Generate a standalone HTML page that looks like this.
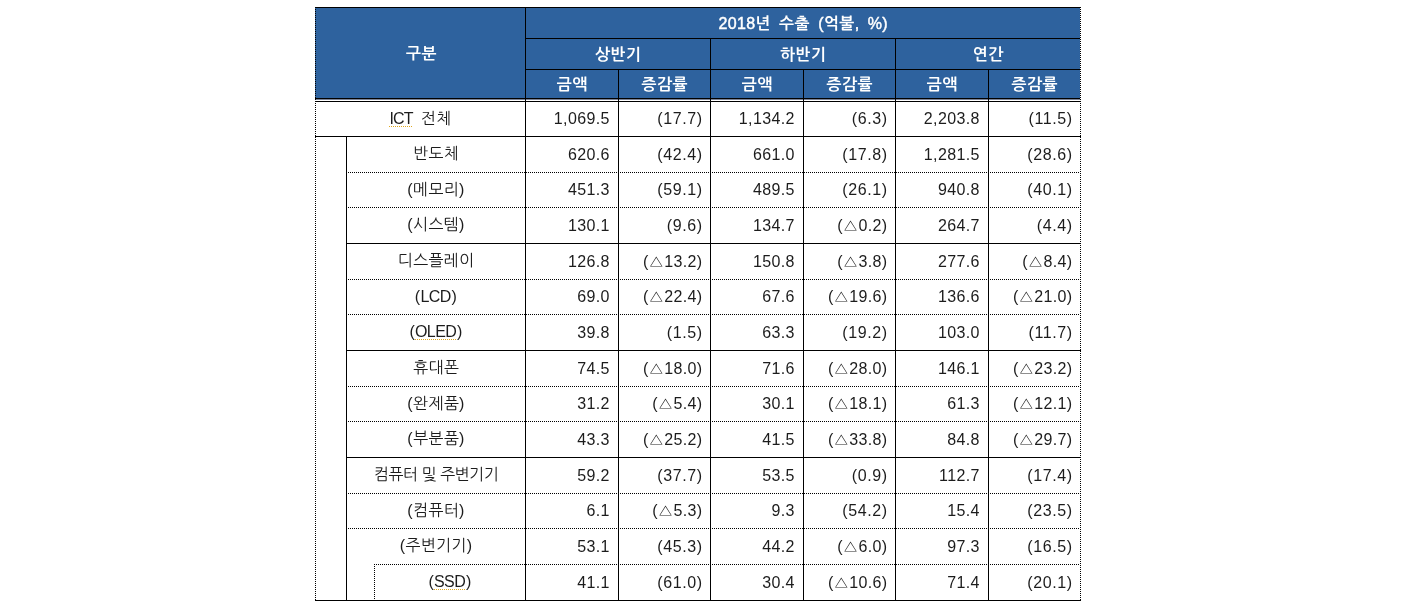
<!DOCTYPE html>
<html lang="ko"><head><meta charset="utf-8"><title>2018년 수출</title>
<style>
html,body{margin:0;padding:0;background:#fff;}
body{width:1402px;height:607px;position:relative;overflow:hidden;font-family:"Liberation Sans","NanumGothic","Noto Sans CJK KR",sans-serif;font-size:16px;color:#1c1c1c;}
.a{position:absolute;}
.hl{position:absolute;height:1px;background:#000;}
.vl{position:absolute;width:1px;background:#000;}
.hd{position:absolute;height:1px;background:repeating-linear-gradient(90deg,#000 0 1px,transparent 1px 2px);}
.vd{position:absolute;width:1px;background:repeating-linear-gradient(180deg,#000 0 1px,transparent 1px 2px);}
.blue{position:absolute;left:315px;top:7px;width:765px;height:92px;background:#2e629e;}
.h{position:absolute;color:#fff;font-weight:bold;text-align:center;white-space:nowrap;font-size:16px;line-height:20px;letter-spacing:0.5px;padding-left:0.5px;box-sizing:border-box;}
.t{position:absolute;text-align:center;white-space:nowrap;line-height:20px;letter-spacing:0.3px;}
.n{position:absolute;text-align:right;white-space:nowrap;line-height:20px;letter-spacing:0.35px;}
.lt{font-weight:normal;-webkit-text-stroke:0.45px #fff;letter-spacing:0.3px;}
.sp{text-decoration:underline dotted #e0a820;text-decoration-thickness:1px;text-underline-offset:1.5px;}
</style></head><body>
<div class="blue"></div>

<div class="hl" style="left:315px;top:7px;width:766px"></div>
<div class="hl" style="left:525px;top:38px;width:555px"></div>
<div class="hl" style="left:525px;top:69px;width:555px"></div>
<div class="hl" style="left:315px;top:98px;width:765px"></div>
<div class="hl" style="left:315px;top:99px;width:765px;background:#7a8296"></div>
<div class="hl" style="left:315px;top:101px;width:766px"></div>
<div class="vl" style="left:525px;top:7px;height:594px"></div>
<div class="vl" style="left:618px;top:69px;height:532px"></div>
<div class="vl" style="left:710px;top:38px;height:563px"></div>
<div class="vl" style="left:803px;top:69px;height:532px"></div>
<div class="vl" style="left:895px;top:38px;height:563px"></div>
<div class="vl" style="left:988px;top:69px;height:532px"></div>
<div class="vl" style="left:346px;top:136px;height:465px"></div>
<div class="vd" style="left:315px;top:9px;height:591px"></div>
<div class="vd" style="left:1080px;top:9px;height:591px"></div>
<div class="vd" style="left:374px;top:564px;height:36px"></div>
<div class="hl" style="left:315px;top:136px;width:766px"></div>
<div class="hd" style="left:348px;top:172px;width:732px"></div>
<div class="hd" style="left:348px;top:207px;width:732px"></div>
<div class="hl" style="left:346px;top:243px;width:735px"></div>
<div class="hd" style="left:348px;top:279px;width:732px"></div>
<div class="hd" style="left:348px;top:314px;width:732px"></div>
<div class="hl" style="left:346px;top:350px;width:735px"></div>
<div class="hd" style="left:348px;top:386px;width:732px"></div>
<div class="hd" style="left:348px;top:421px;width:732px"></div>
<div class="hl" style="left:346px;top:457px;width:735px"></div>
<div class="hd" style="left:348px;top:493px;width:732px"></div>
<div class="hd" style="left:348px;top:528px;width:732px"></div>
<div class="hd" style="left:374px;top:564px;width:706px"></div>
<div class="hl" style="left:315px;top:600px;width:766px"></div>
<div class="h" style="left:316px;top:44.4px;width:210.4px">구분</div>
<div class="h" style="left:526px;top:13.6px;width:554px;word-spacing:3.6px;letter-spacing:0.35px"><span class="lt">2018</span>년 수출 <span class="lt">(</span>억불<span class="lt">, %)</span></div>
<div class="h" style="left:526px;top:44.8px;width:184px">상반기</div>
<div class="h" style="left:711px;top:44.8px;width:184px">하반기</div>
<div class="h" style="left:896px;top:44.8px;width:184px">연간</div>
<div class="h" style="left:526px;top:75.3px;width:92px">금액</div>
<div class="h" style="left:619px;top:75.3px;width:91px">증감률</div>
<div class="h" style="left:711px;top:75.3px;width:92px">금액</div>
<div class="h" style="left:804px;top:75.3px;width:91px">증감률</div>
<div class="h" style="left:896px;top:75.3px;width:92px">금액</div>
<div class="h" style="left:989px;top:75.3px;width:91px">증감률</div>
<div class="t" style="left:316px;top:108.5px;width:209px"><span class="sp" style="letter-spacing:-0.9px">ICT</span><span style="margin-left:3.6px"> 전체</span></div>
<div class="n" style="left:526px;top:109.0px;width:83.7px;letter-spacing:0.35px">1,069.5</div>
<div class="n" style="left:619px;top:109.0px;width:83.7px;letter-spacing:0.6px">(17.7)</div>
<div class="n" style="left:711px;top:109.0px;width:83.7px;letter-spacing:0.35px">1,134.2</div>
<div class="n" style="left:804px;top:109.0px;width:83.7px;letter-spacing:0.6px">(6.3)</div>
<div class="n" style="left:896px;top:109.0px;width:83.7px;letter-spacing:0.35px">2,203.8</div>
<div class="n" style="left:989px;top:109.0px;width:83.7px;letter-spacing:0.6px">(11.5)</div>
<div class="t" style="left:347px;top:144.0px;width:178px">반도체</div>
<div class="n" style="left:526px;top:144.5px;width:83.7px;letter-spacing:0.35px">620.6</div>
<div class="n" style="left:619px;top:144.5px;width:83.7px;letter-spacing:0.6px">(42.4)</div>
<div class="n" style="left:711px;top:144.5px;width:83.7px;letter-spacing:0.35px">661.0</div>
<div class="n" style="left:804px;top:144.5px;width:83.7px;letter-spacing:0.6px">(17.8)</div>
<div class="n" style="left:896px;top:144.5px;width:83.7px;letter-spacing:0.35px">1,281.5</div>
<div class="n" style="left:989px;top:144.5px;width:83.7px;letter-spacing:0.6px">(28.6)</div>
<div class="t" style="left:347px;top:179.5px;width:178px">(메모리)</div>
<div class="n" style="left:526px;top:180.0px;width:83.7px;letter-spacing:0.35px">451.3</div>
<div class="n" style="left:619px;top:180.0px;width:83.7px;letter-spacing:0.6px">(59.1)</div>
<div class="n" style="left:711px;top:180.0px;width:83.7px;letter-spacing:0.35px">489.5</div>
<div class="n" style="left:804px;top:180.0px;width:83.7px;letter-spacing:0.6px">(26.1)</div>
<div class="n" style="left:896px;top:180.0px;width:83.7px;letter-spacing:0.35px">940.8</div>
<div class="n" style="left:989px;top:180.0px;width:83.7px;letter-spacing:0.6px">(40.1)</div>
<div class="t" style="left:347px;top:215.0px;width:178px">(시스템)</div>
<div class="n" style="left:526px;top:215.5px;width:83.7px;letter-spacing:0.35px">130.1</div>
<div class="n" style="left:619px;top:215.5px;width:83.7px;letter-spacing:0.6px">(9.6)</div>
<div class="n" style="left:711px;top:215.5px;width:83.7px;letter-spacing:0.35px">134.7</div>
<div class="n" style="left:804px;top:215.5px;width:83.4px;letter-spacing:0.35px">(△0.2)</div>
<div class="n" style="left:896px;top:215.5px;width:83.7px;letter-spacing:0.35px">264.7</div>
<div class="n" style="left:989px;top:215.5px;width:83.7px;letter-spacing:0.6px">(4.4)</div>
<div class="t" style="left:347px;top:251.0px;width:178px">디스플레이</div>
<div class="n" style="left:526px;top:251.5px;width:83.7px;letter-spacing:0.35px">126.8</div>
<div class="n" style="left:619px;top:251.5px;width:83.4px;letter-spacing:0.35px">(△13.2)</div>
<div class="n" style="left:711px;top:251.5px;width:83.7px;letter-spacing:0.35px">150.8</div>
<div class="n" style="left:804px;top:251.5px;width:83.4px;letter-spacing:0.35px">(△3.8)</div>
<div class="n" style="left:896px;top:251.5px;width:83.7px;letter-spacing:0.35px">277.6</div>
<div class="n" style="left:989px;top:251.5px;width:83.4px;letter-spacing:0.35px">(△8.4)</div>
<div class="t" style="left:347px;top:286.5px;width:178px">(<span style="letter-spacing:-0.6px">LCD</span><span style="margin-left:0.8px">)</span></div>
<div class="n" style="left:526px;top:287.0px;width:83.7px;letter-spacing:0.35px">69.0</div>
<div class="n" style="left:619px;top:287.0px;width:83.4px;letter-spacing:0.35px">(△22.4)</div>
<div class="n" style="left:711px;top:287.0px;width:83.7px;letter-spacing:0.35px">67.6</div>
<div class="n" style="left:804px;top:287.0px;width:83.4px;letter-spacing:0.35px">(△19.6)</div>
<div class="n" style="left:896px;top:287.0px;width:83.7px;letter-spacing:0.35px">136.6</div>
<div class="n" style="left:989px;top:287.0px;width:83.4px;letter-spacing:0.35px">(△21.0)</div>
<div class="t" style="left:347px;top:322.0px;width:178px">(<span class="sp" style="letter-spacing:-0.6px">OLED</span><span style="margin-left:0.8px">)</span></div>
<div class="n" style="left:526px;top:322.5px;width:83.7px;letter-spacing:0.35px">39.8</div>
<div class="n" style="left:619px;top:322.5px;width:83.7px;letter-spacing:0.6px">(1.5)</div>
<div class="n" style="left:711px;top:322.5px;width:83.7px;letter-spacing:0.35px">63.3</div>
<div class="n" style="left:804px;top:322.5px;width:83.7px;letter-spacing:0.6px">(19.2)</div>
<div class="n" style="left:896px;top:322.5px;width:83.7px;letter-spacing:0.35px">103.0</div>
<div class="n" style="left:989px;top:322.5px;width:83.7px;letter-spacing:0.6px">(11.7)</div>
<div class="t" style="left:347px;top:358.0px;width:178px">휴대폰</div>
<div class="n" style="left:526px;top:358.5px;width:83.7px;letter-spacing:0.35px">74.5</div>
<div class="n" style="left:619px;top:358.5px;width:83.4px;letter-spacing:0.35px">(△18.0)</div>
<div class="n" style="left:711px;top:358.5px;width:83.7px;letter-spacing:0.35px">71.6</div>
<div class="n" style="left:804px;top:358.5px;width:83.4px;letter-spacing:0.35px">(△28.0)</div>
<div class="n" style="left:896px;top:358.5px;width:83.7px;letter-spacing:0.35px">146.1</div>
<div class="n" style="left:989px;top:358.5px;width:83.4px;letter-spacing:0.35px">(△23.2)</div>
<div class="t" style="left:347px;top:393.5px;width:178px">(완제품)</div>
<div class="n" style="left:526px;top:394.0px;width:83.7px;letter-spacing:0.35px">31.2</div>
<div class="n" style="left:619px;top:394.0px;width:83.4px;letter-spacing:0.35px">(△5.4)</div>
<div class="n" style="left:711px;top:394.0px;width:83.7px;letter-spacing:0.35px">30.1</div>
<div class="n" style="left:804px;top:394.0px;width:83.4px;letter-spacing:0.35px">(△18.1)</div>
<div class="n" style="left:896px;top:394.0px;width:83.7px;letter-spacing:0.35px">61.3</div>
<div class="n" style="left:989px;top:394.0px;width:83.4px;letter-spacing:0.35px">(△12.1)</div>
<div class="t" style="left:347px;top:429.0px;width:178px">(부분품)</div>
<div class="n" style="left:526px;top:429.5px;width:83.7px;letter-spacing:0.35px">43.3</div>
<div class="n" style="left:619px;top:429.5px;width:83.4px;letter-spacing:0.35px">(△25.2)</div>
<div class="n" style="left:711px;top:429.5px;width:83.7px;letter-spacing:0.35px">41.5</div>
<div class="n" style="left:804px;top:429.5px;width:83.4px;letter-spacing:0.35px">(△33.8)</div>
<div class="n" style="left:896px;top:429.5px;width:83.7px;letter-spacing:0.35px">84.8</div>
<div class="n" style="left:989px;top:429.5px;width:83.4px;letter-spacing:0.35px">(△29.7)</div>
<div class="t" style="left:347px;top:465.0px;width:178px"><span style="letter-spacing:-0.47px">컴퓨터 및 주변기기</span></div>
<div class="n" style="left:526px;top:465.5px;width:83.7px;letter-spacing:0.35px">59.2</div>
<div class="n" style="left:619px;top:465.5px;width:83.7px;letter-spacing:0.6px">(37.7)</div>
<div class="n" style="left:711px;top:465.5px;width:83.7px;letter-spacing:0.35px">53.5</div>
<div class="n" style="left:804px;top:465.5px;width:83.7px;letter-spacing:0.6px">(0.9)</div>
<div class="n" style="left:896px;top:465.5px;width:83.7px;letter-spacing:0.35px">112.7</div>
<div class="n" style="left:989px;top:465.5px;width:83.7px;letter-spacing:0.6px">(17.4)</div>
<div class="t" style="left:347px;top:500.5px;width:178px">(컴퓨터)</div>
<div class="n" style="left:526px;top:501.0px;width:83.7px;letter-spacing:0.35px">6.1</div>
<div class="n" style="left:619px;top:501.0px;width:83.4px;letter-spacing:0.35px">(△5.3)</div>
<div class="n" style="left:711px;top:501.0px;width:83.7px;letter-spacing:0.35px">9.3</div>
<div class="n" style="left:804px;top:501.0px;width:83.7px;letter-spacing:0.6px">(54.2)</div>
<div class="n" style="left:896px;top:501.0px;width:83.7px;letter-spacing:0.35px">15.4</div>
<div class="n" style="left:989px;top:501.0px;width:83.7px;letter-spacing:0.6px">(23.5)</div>
<div class="t" style="left:347px;top:536.0px;width:178px">(주변기기)</div>
<div class="n" style="left:526px;top:536.5px;width:83.7px;letter-spacing:0.35px">53.1</div>
<div class="n" style="left:619px;top:536.5px;width:83.7px;letter-spacing:0.6px">(45.3)</div>
<div class="n" style="left:711px;top:536.5px;width:83.7px;letter-spacing:0.35px">44.2</div>
<div class="n" style="left:804px;top:536.5px;width:83.4px;letter-spacing:0.35px">(△6.0)</div>
<div class="n" style="left:896px;top:536.5px;width:83.7px;letter-spacing:0.35px">97.3</div>
<div class="n" style="left:989px;top:536.5px;width:83.7px;letter-spacing:0.6px">(16.5)</div>
<div class="t" style="left:375px;top:572.0px;width:150px">(<span class="sp" style="letter-spacing:-0.6px">SSD</span><span style="margin-left:0.8px">)</span></div>
<div class="n" style="left:526px;top:572.5px;width:83.7px;letter-spacing:0.35px">41.1</div>
<div class="n" style="left:619px;top:572.5px;width:83.7px;letter-spacing:0.6px">(61.0)</div>
<div class="n" style="left:711px;top:572.5px;width:83.7px;letter-spacing:0.35px">30.4</div>
<div class="n" style="left:804px;top:572.5px;width:83.4px;letter-spacing:0.35px">(△10.6)</div>
<div class="n" style="left:896px;top:572.5px;width:83.7px;letter-spacing:0.35px">71.4</div>
<div class="n" style="left:989px;top:572.5px;width:83.7px;letter-spacing:0.6px">(20.1)</div>
</body></html>
